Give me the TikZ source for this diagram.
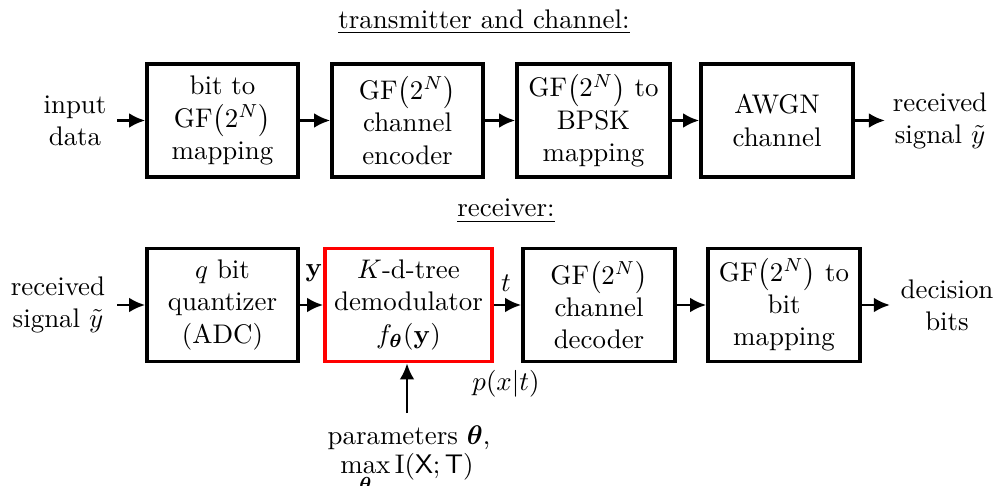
\documentclass[tikz,border=0pt]{standalone}
\usepackage{amsmath}
\usetikzlibrary{arrows.meta}
\begin{document}
\begin{tikzpicture}[x=0.3717pt,y=-0.3717pt,
  blk/.style={draw,line width=1.3pt,align=center,inner sep=0pt,minimum height=113*0.3717pt},
  arr/.style={line width=1.1pt,-{Latex[length=6pt,width=5.5pt]}},
  lbl/.style={align=center,inner sep=0pt}]
\useasboundingbox (0,0) rectangle (996,486);
% titles
\node[lbl] (t1) at (484,22) {\underline{transmitter and channel:}};
\node[lbl] (t2) at (506,211) {\underline{receiver:}};
% top row
\node[lbl] (in) at (75,121) {input\\data};
\coordinate (inA) at (117,120.5);
\node[blk,minimum width=151*0.3717pt] (b1) at (222.5,120.5) {bit to\\GF$\big(2^N\big)$\\mapping};
\node[blk,minimum width=151*0.3717pt] (b2) at (407.5,120.5) {GF$\big(2^N\big)$\\channel\\encoder};
\node[blk,minimum width=153*0.3717pt] (b3) at (593.5,120.5) {GF$\big(2^N\big)$ to\\BPSK\\mapping};
\node[blk,minimum width=152*0.3717pt] (b4) at (777,120.5) {AWGN\\channel};
\coordinate (outA) at (885,120.5);
\node[lbl] (out) at (940,121) {received\\signal $\tilde{y}$};
\draw[arr] (inA) -- (b1.west);
\draw[arr] (b1.east) -- (b2.west);
\draw[arr] (b2.east) -- (b3.west);
\draw[arr] (b3.east) -- (b4.west);
\draw[arr] (b4.east) -- (outA);
% bottom row
\node[lbl] (rin) at (58,305) {received\\signal $\tilde{y}$};
\coordinate (rinA) at (117,305);
\node[blk,minimum width=151*0.3717pt] (c1) at (222.5,305) {$q$ bit\\quantizer\\(ADC)};
\node[blk,draw=red,minimum width=167*0.3717pt] (c2) at (408.5,305) {$K$-d-tree\\demodulator\\$f_{\boldsymbol{\theta}}(\mathbf{y})$};
\node[blk,minimum width=152*0.3717pt] (c3) at (599,305) {GF$\big(2^N\big)$\\channel\\decoder};
\node[blk,minimum width=152*0.3717pt] (c4) at (784,305) {GF$\big(2^N\big)$ to\\bit\\mapping};
\coordinate (decA) at (890,305);
\node[lbl] (dec) at (947,305) {decision\\bits};
\draw[arr] (rinA) -- (c1.west);
\draw[arr] (c1.east) -- (c2.west);
\draw[arr] (c2.east) -- (c3.west);
\draw[arr] (c3.east) -- (c4.west);
\draw[arr] (c4.east) -- (decA);
\node[lbl] (ly) at (314,273) {$\mathbf{y}$};
\node[lbl] (lt) at (506,283) {$t$};
\node[lbl] (lp) at (506,384) {$p(x|t)$};
% parameter arrow
\coordinate (parA) at (407,413);
\draw[arr] (parA) -- (parA |- c2.south);
\node[lbl] (par1) at (409,438) {parameters $\boldsymbol{\theta}$,};
\node[lbl,anchor=base] (par2) at (407,473) {$\displaystyle\max_{\boldsymbol{\theta}}\mathrm{I}(\mathsf{X};\mathsf{T})$};
\end{tikzpicture}
\end{document}
